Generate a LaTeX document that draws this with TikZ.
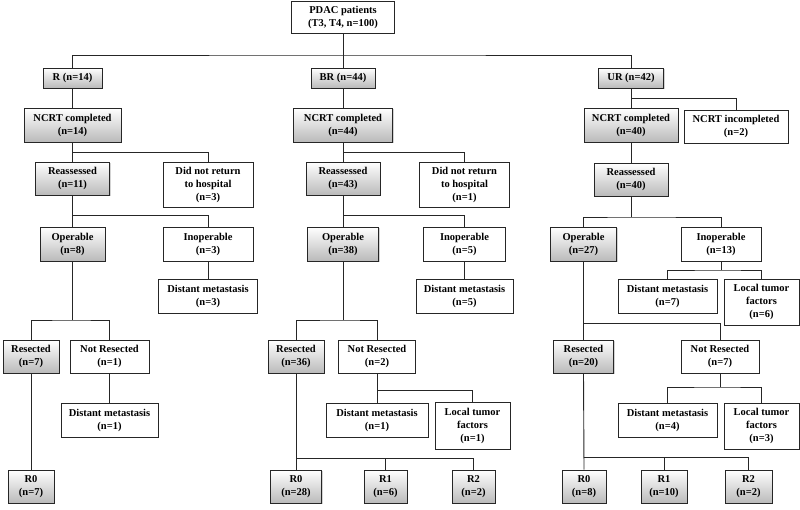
\documentclass[tikz,border=0pt]{standalone}
\usepackage{fontspec}
\setmainfont{Liberation Serif}
\usetikzlibrary{shadows}
\tikzset{
  box/.style={draw=black!85, line width=0.9pt, inner sep=0pt, align=center,
    font=\bfseries\fontsize{10.5}{13}\selectfont},
  gbox/.style={box, top color=white, bottom color=black!27,
    drop shadow={opacity=0.35, shadow xshift=1pt, shadow yshift=-1pt}},
  wbox/.style={box, fill=white},
  link/.style={draw=black!85, line width=0.9pt}
}
\newcommand{\bx}[7]{\node[#1, minimum width=#4pt, minimum height=#5pt] (#6) at (#2,#3) {#7};}
\begin{document}
\begin{tikzpicture}[x=1pt,y=-1pt]
\useasboundingbox (0,0) rectangle (800,509);
% top
\bx{wbox}{343}{17}{103}{32}{pdac}{PDAC patients\\(T3, T4, n=100)}
\bx{gbox}{72.5}{78}{59}{20}{R}{R (n=14)}
\bx{gbox}{343}{78}{64}{20}{BR}{BR (n=44)}
\bx{gbox}{631}{78}{65}{20}{UR}{UR (n=42)}
% NCRT
\bx{gbox}{72.5}{125}{97}{34}{ncrtR}{NCRT completed\\(n=14)}
\bx{gbox}{343}{125}{99}{34}{ncrtB}{NCRT completed\\(n=44)}
\bx{gbox}{631}{125}{94}{34}{ncrtU}{NCRT completed\\(n=40)}
\bx{wbox}{736}{126.5}{104}{33}{ncriU}{NCRT incompleted\\(n=2)}
% reassessed
\bx{gbox}{72.5}{178.5}{74}{33}{reaR}{Reassessed\\(n=11)}
\bx{gbox}{343}{178.5}{74}{33}{reaB}{Reassessed\\(n=43)}
\bx{gbox}{631}{179.5}{74}{33}{reaU}{Reassessed\\(n=40)}
\bx{wbox}{208}{184.5}{90}{45}{dnrR}{Did not return\\to hospital\\(n=3)}
\bx{wbox}{464.5}{184.5}{90}{45}{dnrB}{Did not return\\to hospital\\(n=1)}
% operable
\bx{gbox}{72.5}{244}{65}{34}{opR}{Operable\\(n=8)}
\bx{gbox}{343}{244}{71}{34}{opB}{Operable\\(n=38)}
\bx{gbox}{583.5}{244}{66}{34}{opU}{Operable\\(n=27)}
\bx{wbox}{208}{244}{90}{34}{inR}{Inoperable\\(n=3)}
\bx{wbox}{464.5}{244}{82}{34}{inB}{Inoperable\\(n=5)}
\bx{wbox}{721}{244}{80}{34}{inU}{Inoperable\\(n=13)}
% inoperable causes
\bx{wbox}{208}{296}{99}{34}{dmR}{Distant metastasis\\(n=3)}
\bx{wbox}{464.5}{296}{97}{34}{dmB}{Distant metastasis\\(n=5)}
\bx{wbox}{667.5}{296}{99}{34}{dmU}{Distant metastasis\\(n=7)}
\bx{wbox}{761.5}{302}{75}{46}{ltU}{Local tumor\\factors\\(n=6)}
% resected
\bx{gbox}{31}{356.5}{56}{33}{resR}{Resected\\(n=7)}
\bx{wbox}{109.5}{356.5}{79}{33}{nresR}{Not Resected\\(n=1)}
\bx{gbox}{296}{356.5}{56}{33}{resB}{Resected\\(n=36)}
\bx{wbox}{377}{356.5}{77}{33}{nresB}{Not Resected\\(n=2)}
\bx{gbox}{583.5}{356.5}{60}{33}{resU}{Resected\\(n=20)}
\bx{wbox}{720}{356.5}{78}{33}{nresU}{Not Resected\\(n=7)}
% not resected causes
\bx{wbox}{109.5}{420}{97}{34}{dm2R}{Distant metastasis\\(n=1)}
\bx{wbox}{377}{420}{102}{34}{dm2B}{Distant metastasis\\(n=1)}
\bx{wbox}{472.5}{425.5}{75}{47}{lt2B}{Local tumor\\factors\\(n=1)}
\bx{wbox}{667.5}{420}{99}{34}{dm2U}{Distant metastasis\\(n=4)}
\bx{wbox}{761.5}{426}{75}{46}{lt2U}{Local tumor\\factors\\(n=3)}
% margins
\bx{gbox}{31}{486.5}{46}{33}{r0R}{R0\\(n=7)}
\bx{gbox}{296}{486.5}{51}{33}{r0B}{R0\\(n=28)}
\bx{gbox}{385.5}{486.5}{43}{33}{r1B}{R1\\(n=6)}
\bx{gbox}{473.5}{486.5}{43}{33}{r2B}{R2\\(n=2)}
\bx{gbox}{584}{486.5}{44}{33}{r0U}{R0\\(n=8)}
\bx{gbox}{664}{486.5}{46}{33}{r1U}{R1\\(n=10)}
\bx{gbox}{748.5}{486.5}{47}{33}{r2U}{R2\\(n=2)}
% junctions
\coordinate (j0) at (343,55);
\coordinate (jR1) at (72.5,152);
\coordinate (jB1) at (343,152);
\coordinate (jU1) at (631,98);
\coordinate (jR2) at (72.5,215);
\coordinate (jB2) at (343,215);
\coordinate (jU2) at (631,217);
\coordinate (jU3) at (721,270);
\coordinate (jR3) at (72.5,320);
\coordinate (jB3) at (343,320);
\coordinate (jU4) at (583.5,323);
\coordinate (jB4) at (377,390);
\coordinate (jU5) at (720,387);
\coordinate (jB5) at (296,458);
\coordinate (jU6) at (584,457);
% connectors
\draw[link] (pdac.south) -- (BR.north);
\draw[link] (R.north) |- (j0) -| (UR.north);
\draw[link] (R.south) -- (ncrtR.north);
\draw[link] (BR.south) -- (ncrtB.north);
\draw[link] (UR.south) -- (ncrtU.north);
\draw[link] (jU1) -| (ncriU.north);
\draw[link] (ncrtR.south) -- (reaR.north);
\draw[link] (jR1) -| (dnrR.north);
\draw[link] (ncrtB.south) -- (reaB.north);
\draw[link] (jB1) -| (dnrB.north);
\draw[link] (ncrtU.south) -- (reaU.north);
\draw[link] (reaR.south) -- (opR.north);
\draw[link] (jR2) -| (inR.north);
\draw[link] (reaB.south) -- (opB.north);
\draw[link] (jB2) -| (inB.north);
\draw[link] (reaU.south) -- (jU2);
\draw[link] (opU.north) |- (jU2) -| (inU.north);
\draw[link] (inR.south) -- (dmR.north);
\draw[link] (inB.south) -- (dmB.north);
\draw[link] (inU.south) -- (jU3);
\draw[link] (dmU.north) |- (jU3) -| (ltU.north);
\draw[link] (opR.south) -- (jR3);
\draw[link] (resR.north) |- (jR3) -| (nresR.north);
\draw[link] (opB.south) -- (jB3);
\draw[link] (resB.north) |- (jB3) -| (nresB.north);
\draw[link] (opU.south) -- (resU.north);
\draw[link] (jU4) -| (nresU.north);
\draw[link] (nresR.south) -- (dm2R.north);
\draw[link] (nresB.south) -- (dm2B.north);
\draw[link] (jB4) -| (lt2B.north);
\draw[link] (nresU.south) -- (jU5);
\draw[link] (dm2U.north) |- (jU5) -| (lt2U.north);
\draw[link] (resR.south) -- (r0R.north);
\draw[link] (resB.south) -- (r0B.north);
\draw[link] (jB5) -| (r2B.north);
\draw[link] (r1B.north) -- (r1B.north |- jB5);
\draw[link] (resU.south) -- (r0U.north);
\draw[link] (jU6) -| (r2U.north);
\draw[link] (r1U.north) -- (r1U.north |- jU6);
\end{tikzpicture}
\end{document}
